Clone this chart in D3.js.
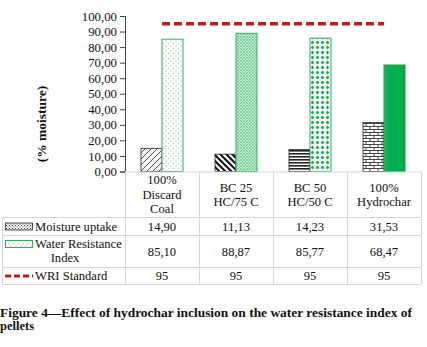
<!DOCTYPE html>
<html>
<head>
<meta charset="utf-8">
<script src="https://d3js.org/d3.v7.min.js"></script>
<style>
  body { margin: 0; background: #fff; }
  text { font-family: "Liberation Serif", "Times New Roman", serif; fill: #111; }
</style>
</head>
<body>
<div id="chart"></div>
<script>
// data
const categories = [["100%", "Discard", "Coal"], ["BC 25", "HC/75 C"], ["BC 50", "HC/50 C"], ["100%", "Hydrochar"]];
const moisture = [14.90, 11.13, 14.23, 31.53];
const wri = [85.10, 88.87, 85.77, 68.47];
const wriStandard = [95, 95, 95, 95];
const yTicks = [0, 10, 20, 30, 40, 50, 60, 70, 80, 90, 100];
const seriesNames = ["Moisture uptake", "Water Resistance Index", "WRI Standard"];

const W = 427, H = 347;
const plot = {left: 125, right: 421, top: 16, bottom: 172};
const rows = {header: 217, moist: 235, wri: 267, std: 284};

const svg = d3.select("#chart").append("svg").attr("width", W).attr("height", H);
const defs = svg.append("defs");

const loc = d3.formatLocale({decimal: ",", thousands: ".", grouping: [3], currency: ["", ""]});
const f2 = loc.format(".2f");

// ---- patterns
function pat(id, w, h, draw) {
  const p = defs.append("pattern").attr("id", id).attr("patternUnits", "userSpaceOnUse")
    .attr("width", w).attr("height", h);
  draw(p);
}
// moisture patterns
pat("m0", 6, 6, p => {
  p.append("rect").attr("width", 6).attr("height", 6).attr("fill", "#fff");
  p.append("path").attr("d", "M-1,7 L7,-1 M-1,1 L1,-1 M5,7 L7,5").attr("stroke", "#222").attr("stroke-width", 0.8);
});
pat("m1", 6, 6, p => {
  p.append("rect").attr("width", 6).attr("height", 6).attr("fill", "#fff");
  p.append("path").attr("d", "M-1,-1 L7,7 M5,-1 L7,1 M-1,5 L1,7").attr("stroke", "#111").attr("stroke-width", 2);
});
pat("m2", 4, 3, p => {
  p.append("rect").attr("width", 4).attr("height", 3).attr("fill", "#fff");
  p.append("rect").attr("y", 0).attr("width", 4).attr("height", 1.6).attr("fill", "#222");
});
pat("m3", 8, 6, p => {
  p.append("rect").attr("width", 8).attr("height", 6).attr("fill", "#fff");
  p.append("path").attr("d", "M0,0.5 H8 M0,3.5 H8 M2,0 V3 M6,3 V6").attr("stroke", "#333").attr("stroke-width", 0.9);
});
pat("mleg", 3, 3, p => {
  p.append("rect").attr("width", 3).attr("height", 3).attr("fill", "#fff");
  p.append("rect").attr("width", 1).attr("height", 1).attr("fill", "#333");
  p.append("rect").attr("x", 1.5).attr("y", 1.5).attr("width", 1).attr("height", 1).attr("fill", "#333");
});
// water resistance patterns
pat("w0", 5, 5, p => {
  p.append("rect").attr("width", 5).attr("height", 5).attr("fill", "#fff");
  p.append("circle").attr("cx", 1).attr("cy", 1).attr("r", 0.7).attr("fill", "#8fd8a8");
  p.append("circle").attr("cx", 3.5).attr("cy", 3.5).attr("r", 0.7).attr("fill", "#8fd8a8");
});
pat("w1", 3, 3, p => {
  p.append("rect").attr("width", 3).attr("height", 3).attr("fill", "#bfead0");
  p.append("circle").attr("cx", 1).attr("cy", 1).attr("r", 0.8).attr("fill", "#3cb66a");
  p.append("circle").attr("cx", 2.5).attr("cy", 2.4).attr("r", 0.5).attr("fill", "#5cc382");
});
pat("w2", 5, 5, p => {
  p.append("rect").attr("width", 5).attr("height", 5).attr("fill", "#fff");
  p.append("path").attr("d", "M2.5,0.6 L4.4,2.5 L2.5,4.4 L0.6,2.5 Z").attr("fill", "#1fae55");
});
const grad = defs.append("linearGradient").attr("id", "w3");
grad.append("stop").attr("offset", "0%").attr("stop-color", "#34c070");
grad.append("stop").attr("offset", "15%").attr("stop-color", "#00b050");
grad.append("stop").attr("offset", "85%").attr("stop-color", "#00b050");
grad.append("stop").attr("offset", "100%").attr("stop-color", "#1a9a4c");

const mFill = ["url(#m0)", "url(#m1)", "url(#m2)", "url(#m3)"];
const wFill = ["url(#w0)", "url(#w1)", "url(#w2)", "url(#w3)"];

// ---- scales
const x = d3.scaleBand().domain(d3.range(categories.length)).range([plot.left, plot.right]);
const xSub = d3.scaleBand().domain([0, 1]).range([16, x.bandwidth() - 16]);
const y = d3.scaleLinear().domain([0, 100]).range([plot.bottom - 0.5, plot.top]);

// ---- y axis
const yAxis = svg.append("g").attr("transform", `translate(${plot.left},0)`)
  .call(d3.axisLeft(y).tickValues(yTicks).tickFormat(f2).tickSize(5).tickPadding(3));
yAxis.select(".domain").attr("stroke", "#444");
yAxis.selectAll(".tick line").attr("stroke", "#444");
yAxis.selectAll("text").style("font-size", "12.8px").attr("fill", "#111");

svg.append("text").attr("transform", "translate(46,124) rotate(-90)")
  .attr("text-anchor", "middle").style("font-size", "13.5px").style("font-weight", "bold")
  .text("(% moisture)");

// ---- bars
const g = svg.append("g");
g.selectAll(".moist").data(moisture).enter().append("rect")
  .attr("x", (d, i) => x(i) + xSub(0)).attr("width", xSub.bandwidth())
  .attr("y", d => y(d)).attr("height", d => y(0) - y(d))
  .attr("fill", (d, i) => mFill[i]).attr("stroke", "#222").attr("stroke-width", 0.8);
g.selectAll(".wri").data(wri).enter().append("rect")
  .attr("x", (d, i) => x(i) + xSub(1)).attr("width", xSub.bandwidth())
  .attr("y", d => y(d)).attr("height", d => y(0) - y(d))
  .attr("fill", (d, i) => wFill[i]).attr("stroke", (d, i) => i == 3 ? "#129b48" : "#2fae60").attr("stroke-width", 1);

// standard line
const line = d3.line().x((d, i) => x(i) + x.bandwidth() / 2).y(d => y(d));
svg.append("path").datum(wriStandard).attr("d", line).attr("fill", "none")
  .attr("stroke", "#c0191e").attr("stroke-width", 3.5).attr("stroke-dasharray", "8,4");

// ---- data table
const grid = "#d4d4d4";
const t = svg.append("g");
t.append("line").attr("x1", plot.left).attr("x2", plot.right).attr("y1", plot.bottom).attr("y2", plot.bottom).attr("stroke", grid);
[rows.header, rows.moist, rows.wri, rows.std].forEach(yy => {
  t.append("line").attr("x1", 2).attr("x2", plot.right).attr("y1", yy + 0.5).attr("y2", yy + 0.5).attr("stroke", grid);
});
d3.range(categories.length + 1).forEach(i => {
  const xx = i < categories.length ? x(i) : plot.right;
  t.append("line").attr("x1", xx + 0.5).attr("x2", xx + 0.5).attr("y1", plot.bottom).attr("y2", rows.std).attr("stroke", grid);
});
t.append("line").attr("x1", 2.5).attr("x2", 2.5).attr("y1", rows.header).attr("y2", rows.std).attr("stroke", grid);

const fs = "12.6px";
categories.forEach((lines, i) => {
  const cx = x(i) + x.bandwidth() / 2;
  const cy = (plot.bottom + rows.header) / 2;
  lines.forEach((s, k) => {
    t.append("text").attr("x", cx).attr("y", cy + (k - (lines.length - 1) / 2) * 14.5)
      .attr("dy", "0.35em").attr("text-anchor", "middle").style("font-size", fs).text(s);
  });
  t.append("text").attr("x", cx).attr("y", (rows.header + rows.moist) / 2 + 0.5).attr("dy", "0.35em")
    .attr("text-anchor", "middle").style("font-size", fs).text(f2(moisture[i]));
  t.append("text").attr("x", cx).attr("y", (rows.moist + rows.wri) / 2 + 0.5).attr("dy", "0.35em")
    .attr("text-anchor", "middle").style("font-size", fs).text(f2(wri[i]));
  t.append("text").attr("x", cx).attr("y", (rows.wri + rows.std) / 2 + 0.5).attr("dy", "0.35em")
    .attr("text-anchor", "middle").style("font-size", fs).text(wriStandard[i]);
});

// legend keys in the table
const ym = (rows.header + rows.moist) / 2 + 0.5;
t.append("rect").attr("x", 5.5).attr("y", ym - 3.5).attr("width", 27).attr("height", 7)
  .attr("fill", "url(#mleg)").attr("stroke", "#222").attr("stroke-width", 0.8);
t.append("text").attr("x", 35).attr("y", ym).attr("dy", "0.35em").style("font-size", fs).text(seriesNames[0]);
t.append("rect").attr("x", 5.5).attr("y", 240.5).attr("width", 27).attr("height", 7)
  .attr("fill", "url(#w0)").attr("stroke", "#2fae60").attr("stroke-width", 1);
t.append("text").attr("x", 35).attr("y", 244).attr("dy", "0.35em").style("font-size", fs).text("Water Resistance");
t.append("text").attr("x", 65).attr("y", 258).attr("dy", "0.35em").attr("text-anchor", "middle").style("font-size", fs).text("Index");
const ys = (rows.wri + rows.std) / 2 + 0.5;
t.append("line").attr("x1", 5).attr("x2", 33).attr("y1", ys).attr("y2", ys)
  .attr("stroke", "#c0191e").attr("stroke-width", 3).attr("stroke-dasharray", "6,3");
t.append("text").attr("x", 35).attr("y", ys).attr("dy", "0.35em").style("font-size", fs).text(seriesNames[2]);

// caption
const cap = svg.append("g").style("font-weight", "bold");
cap.append("text").attr("x", 0).attr("y", 317).style("font-size", "12.5px").attr("fill", "#231f20")
  .attr("textLength", 412).attr("lengthAdjust", "spacingAndGlyphs")
  .text("Figure 4\u2014Effect of hydrochar inclusion on the water resistance index of");
cap.append("text").attr("x", 0).attr("y", 330).style("font-size", "12.5px").attr("fill", "#231f20")
  .text("pellets");
</script>
</body>
</html>
